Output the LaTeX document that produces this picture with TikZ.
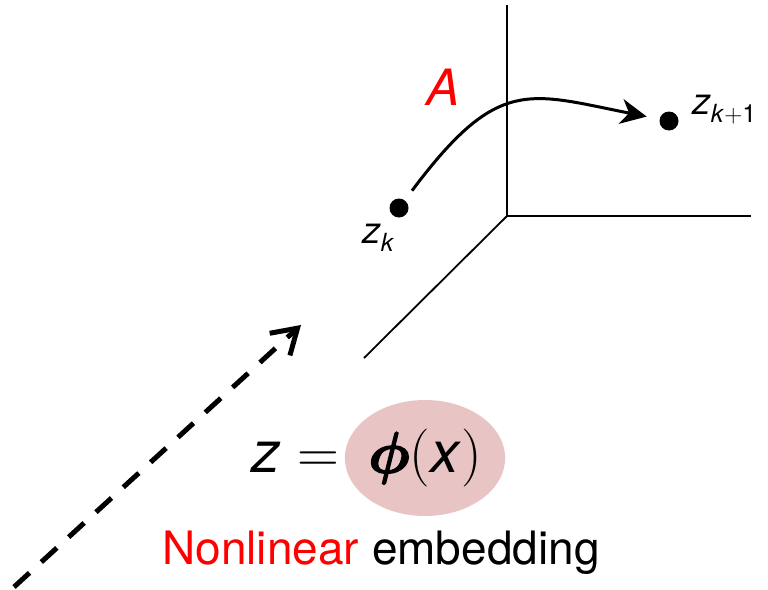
\RequirePackage{fix-cm}
\documentclass[tikz,border=0pt]{standalone}
\usepackage{amsmath}
\usepackage{bm}
\usepackage{fontspec}
\setmainfont{TeX Gyre Heros}
\usetikzlibrary{arrows.meta,shapes.geometric}
\definecolor{blobpink}{RGB}{233,196,196}
\definecolor{myred}{RGB}{255,0,0}
\newcommand{\subtxt}[1]{\raisebox{-8pt}{\fontsize{25}{26}\selectfont #1}}
\newcommand{\heavyphi}{\special{pdf:literal direct 2 Tr 1.6 w}$\bm{\phi}$\special{pdf:literal direct 0 Tr}}
\tikzset{
  axis/.style={line width=1.8pt},
  dotnode/.style={circle,fill=black,inner sep=0pt,minimum size=19pt},
  lbl/.style={inner sep=0pt,font=\fontsize{37}{38}\selectfont},
  big/.style={inner sep=0pt,font=\fontsize{58}{60}\selectfont},
}
\begin{document}
\begin{tikzpicture}[x=1pt,y=-1pt]
\useasboundingbox (0,0) rectangle (768,589);
% axes
\coordinate (o) at (507,216);
\coordinate (ytop) at (507,5);
\coordinate (xend) at (751,216);
\coordinate (dend) at (364,358);
\draw[axis] (ytop) -- (o) -- (xend);
\draw[axis] (o) -- (dend);
% points
\node[dotnode] (zk) at (399,208) {};
\node[dotnode] (zk1) at (669,121) {};
\node[lbl,anchor=base west] (zklab) at (362,243) {\textit{z}\subtxt{\textit{k}}};
\node[lbl,anchor=base west] (zk1lab) at (692,114) {\textit{z}\subtxt{\textit{k}$+$1}};
\draw[line width=3pt,shorten <=12pt,shorten >=13pt,-{Stealth[length=26pt,width=25pt,inset=8pt]}]
  (zk) .. controls (498,76) and (528,93) .. (zk1);
\node[inner sep=0pt,text=myred,font=\fontsize{50}{52}\selectfont] (A) at (443,87) {\textit{A}};
% dashed arrow
\coordinate (ds) at (14,587);
\coordinate (de) at (301,325);
\draw[line width=5pt,dash pattern=on 21pt off 16pt,-{Straight Barb[length=24pt,width=30pt,line width=5pt]}] (ds) -- (de);
% equation
\node[shape=ellipse,fill=blobpink,inner sep=0pt,minimum width=156pt,minimum height=116pt,big] (phi) at (425,458) {\heavyphi$($\textit{x}$)$};
\node[big,anchor=base east] (lhs) at (339,472) {\textit{z}\hspace{16pt}$=$};
\node[inner sep=0pt,anchor=base,font=\fontsize{46}{48}\selectfont] (cap) at (381,564) {\textcolor{myred}{Nonlinear} embedding};
\end{tikzpicture}
\end{document}
